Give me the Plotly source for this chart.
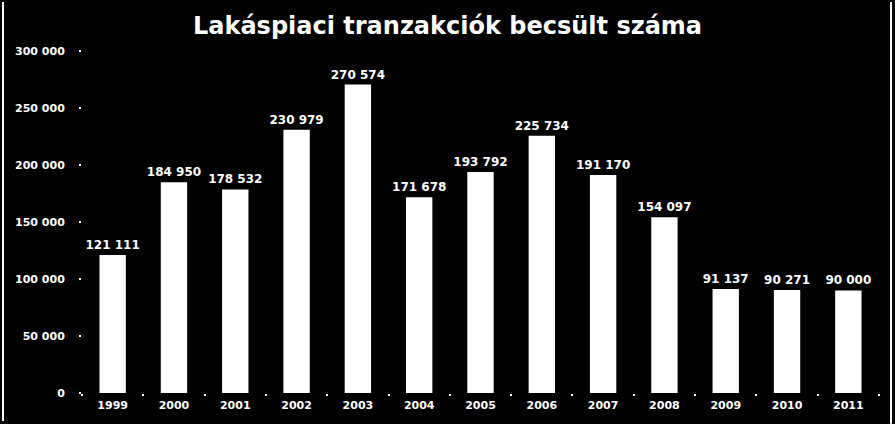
import plotly.graph_objects as go

years = ["1999", "2000", "2001", "2002", "2003", "2004", "2005", "2006",
         "2007", "2008", "2009", "2010", "2011"]
transactions = [121111, 184950, 178532, 230979, 270574, 171678, 193792,
                225734, 191170, 154097, 91137, 90271, 90000]
y_ticks = [0, 50000, 100000, 150000, 200000, 250000, 300000]

FONT = "DejaVu Sans"

fig = go.Figure(go.Bar(
    x=years, y=transactions,
    marker=dict(color="white", line=dict(width=0)),
    texttemplate="%{y:,d}", textposition="outside", cliponaxis=False,
    constraintext="none",
    textfont=dict(color="white", size=12, family=FONT, weight="bold"),
))

fig.update_layout(
    width=895, height=424,
    paper_bgcolor="black", plot_bgcolor="black",
    separators=", ",
    margin=dict(l=82, r=16, t=51, b=31),
    bargap=0.57,
    showlegend=False,
    title=dict(text="<b>Lakáspiaci tranzakciók becsült száma</b>",
               x=0.5, xanchor="center", y=0.94, yanchor="middle",
               font=dict(family=FONT, size=24, color="white")),
    xaxis=dict(showgrid=False, zeroline=False, showline=False,
               ticks="outside", tickson="boundaries", ticklen=2, tickwidth=2,
               tickcolor="white", ticklabelstandoff=4,
               tickfont=dict(family=FONT, size=11, color="white", weight="bold")),
    yaxis=dict(range=[0, 300000], tickvals=y_ticks, tickformat=",d",
               showgrid=False, zeroline=False, showline=False,
               ticks="outside", ticklen=2, tickwidth=2, tickcolor="white",
               ticklabelstandoff=12,
               tickfont=dict(family=FONT, size=11, color="white", weight="bold")),
    shapes=[
        dict(type="line", xref="paper", yref="paper",
             x0=-0.0991, x1=-0.0991, y0=-0.082, y1=1.143,
             line=dict(color="white", width=2)),
        dict(type="line", xref="paper", yref="paper",
             x0=1.0151, x1=1.0151, y0=-0.09, y1=1.143,
             line=dict(color="white", width=2)),
    ],
)

fig.write_html("out.html", config={"displayModeBar": False},
               post_script="document.body.style.margin='0px';")
